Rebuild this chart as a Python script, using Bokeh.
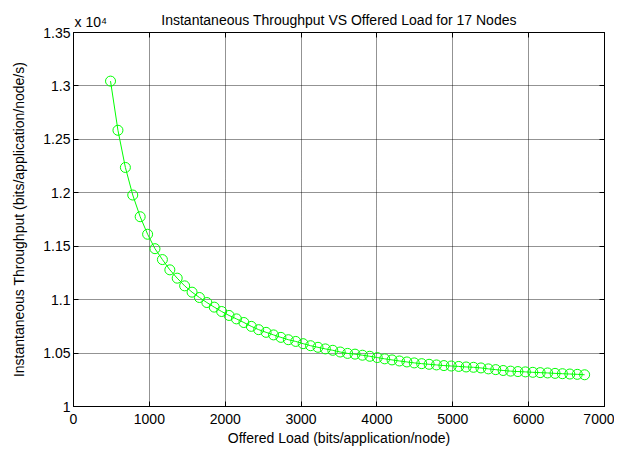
from bokeh.plotting import figure
from bokeh.models import Range1d, LinearAxis, FixedTicker, Label
from bokeh.embed import file_html
from bokeh.resources import INLINE

# Offered load (bits/application/node)
offered_load = [488, 586, 684, 781, 879, 977, 1074, 1172, 1270, 1367,
                1465, 1563, 1660, 1758, 1855, 1953, 2051, 2148, 2246, 2344,
                2441, 2539, 2637, 2734, 2832, 2930, 3027, 3125, 3223, 3320,
                3418, 3516, 3613, 3711, 3809, 3906, 4004, 4102, 4199, 4297,
                4395, 4492, 4590, 4688, 4785, 4883, 4980, 5078, 5176, 5273,
                5371, 5469, 5566, 5664, 5762, 5859, 5957, 6055, 6152, 6250,
                6348, 6445, 6543, 6641, 6738]
# Instantaneous throughput (bits/application/node/s)
throughput = [13045, 12585, 12237, 11979, 11776, 11612, 11477, 11375, 11279, 11201,
              11129, 11070, 11020, 10973, 10930, 10889, 10852, 10820, 10786, 10750,
              10719, 10694, 10670, 10647, 10625, 10609, 10588, 10569, 10554, 10539,
              10526, 10510, 10497, 10490, 10480, 10470, 10458, 10446, 10436, 10426,
              10417, 10408, 10401, 10395, 10389, 10383, 10379, 10375, 10370, 10367,
              10361, 10352, 10345, 10337, 10331, 10327, 10324, 10320, 10317, 10314,
              10310, 10307, 10304, 10301, 10297]

x_ticks = [0, 1000, 2000, 3000, 4000, 5000, 6000, 7000]
y_ticks = [10000, 10500, 11000, 11500, 12000, 12500, 13000, 13500]
y_tick_labels = ["1", "1.05", "1.1", "1.15", "1.2", "1.25", "1.3", "1.35"]

title_text = "Instantaneous Throughput VS Offered Load for 17 Nodes"
scale_text = "x 10\u2074"
x_label = "Offered Load (bits/application/node)"
y_label = "Instantaneous Throughput (bits/application/node/s)"

FONT = "Liberation Sans"

p = figure(width=614, height=448, output_backend="svg", toolbar_location=None,
           x_range=Range1d(0, 7000), y_range=Range1d(10000, 13500),
           min_border_left=73, min_border_right=10, min_border_top=32,
           min_border_bottom=41)
p.background_fill_color = "white"
p.border_fill_color = "white"
p.outline_line_color = "black"
p.outline_line_width = 1


def style_axis(ax, ticks):
    ax.ticker = FixedTicker(ticks=ticks)
    ax.major_tick_in = 5
    ax.major_tick_out = 0
    ax.minor_tick_line_color = None
    ax.axis_line_color = "black"
    ax.major_tick_line_color = "black"
    ax.major_label_text_font = FONT
    ax.major_label_text_font_size = "14px"
    ax.major_label_text_color = "black"
    ax.axis_label_text_font = FONT
    ax.axis_label_text_font_size = "14px"
    ax.axis_label_text_font_style = "normal"
    ax.axis_label_text_color = "black"


xa = p.xaxis[0]
style_axis(xa, x_ticks)
xa.axis_label = x_label
xa.major_label_standoff = 7
xa.axis_label_standoff = 3

ya = p.yaxis[0]
style_axis(ya, y_ticks)
ya.axis_label = y_label
ya.major_label_standoff = 3
ya.axis_label_standoff = 13
ya.major_label_overrides = {t: s for t, s in zip(y_ticks, y_tick_labels)}

# box axes (ticks only) on top and right, as in the MATLAB figure
top = LinearAxis()
style_axis(top, x_ticks)
top.major_label_text_font_size = "1px"
top.major_label_text_color = None
top.major_label_standoff = 0
p.add_layout(top, "above")

right = LinearAxis()
style_axis(right, y_ticks)
right.major_label_text_font_size = "1px"
right.major_label_text_color = None
right.major_label_standoff = 0
p.add_layout(right, "right")

for g, t in ((p.xgrid[0], x_ticks), (p.ygrid[0], y_ticks)):
    g.ticker = FixedTicker(ticks=t)
    g.grid_line_color = "black"
    g.grid_line_dash = "1 1"
    g.grid_line_alpha = 0.85
    g.grid_line_width = 1

p.line(offered_load, throughput, line_color="#00ff00", line_width=1)
p.scatter(offered_load, throughput, marker="circle", size=10,
          fill_color=None, line_color="#00ff00", line_width=1)

# exponent label and title, placed in the area above the axes
p.add_layout(Label(x=0, y=11, x_units="data", y_units="screen", x_offset=1,
                   text=scale_text, text_font=FONT, text_font_size="14px",
                   text_color="black", text_baseline="alphabetic"), "above")
p.add_layout(Label(x=3500, y=-3, x_units="data", y_units="screen",
                   text=title_text, text_font=FONT, text_font_size="14px",
                   text_color="black", text_align="center",
                   text_baseline="alphabetic"), "above")

open("out.html", "w").write(file_html(p, INLINE))
